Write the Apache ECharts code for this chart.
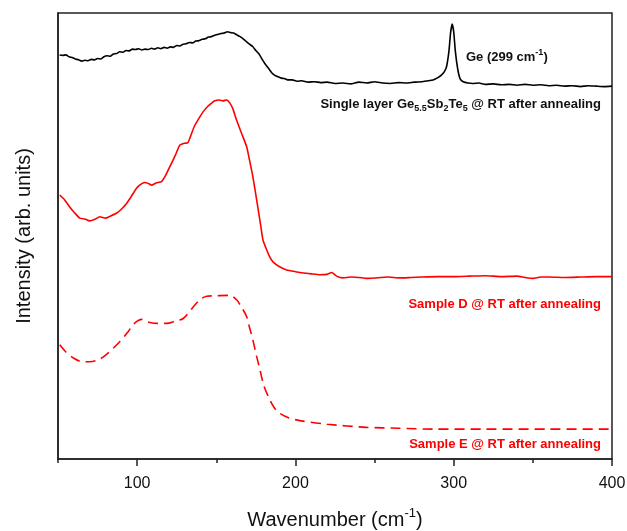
<!DOCTYPE html>
<html>
<head>
<meta charset="utf-8">
<script src="https://cdn.jsdelivr.net/npm/echarts@6/dist/echarts.min.js"></script>
<style>
html,body{margin:0;padding:0;background:#fff;}
#c{width:627px;height:531px;}
</style>
</head>
<body>
<div id="c"></div>
<script>
// Tick values
const majorTicks = [100, 200, 300, 400];
const minorTicks = [50, 150, 250, 350];

// Single layer Ge5.5Sb2Te5 (black)
const singleX = [51,53,55,57,59,61,63,65,67,69,71,73,75,77,79,81,83,85,87,89,91,93,95,97,99,101,103,105,107,109,111,113,115,117,119,121,123,125,127,129,131,133,135,137,139,141,143,145,147,149,151,153,155,157,159,161,163,165,167,169,171,173,175,177,179,181,183,185,187,189,191,193,195,198,201,204,208,212,216,220,225,230,235,240,245,250,255,260,265,270,275,280,284,287,290,292,294,295.5,297,298,299,300,301,302.5,304,306,309,312,316,320,325,330,335,340,345,350,355,360,365,370,375,380,385,390,395,400];
const singleY = [90.6,90.5,90.6,90.2,90.0,89.7,89.5,89.2,89.4,89.3,89.6,89.5,89.8,89.7,90.2,90.4,90.3,90.8,90.9,91.3,91.2,91.6,91.5,91.9,91.8,92.0,91.7,91.9,91.8,92.1,91.9,92.2,92.0,92.3,92.1,92.4,92.3,92.7,92.6,93.0,93.1,93.4,93.3,93.7,93.8,94.1,94.2,94.6,94.7,95.0,95.2,95.4,95.5,95.8,95.6,95.5,95.1,94.7,94.2,93.6,93.0,92.5,91.6,90.8,89.6,88.5,87.6,86.6,86.0,85.7,85.4,85.3,85.0,85.0,84.7,84.8,84.5,84.6,84.4,84.5,84.2,84.3,84.1,84.5,84.3,84.6,84.3,84.2,84.4,84.3,84.5,84.6,84.8,85.0,85.5,86.0,86.8,88.0,91.5,95.5,97.5,95.8,91.5,87.5,85.3,84.6,84.3,84.2,84.3,84.0,84.1,83.9,84.0,83.8,84.0,83.8,83.9,83.7,83.8,83.6,83.7,83.5,83.7,83.6,83.5,83.6];

// Sample D (red solid)
const sampleDX = [51.1,54,57.4,60,63.7,67,70,73,76.4,80,82.7,86.9,90,93.3,96,99.6,102,104.8,107,109.1,112,115.4,118,120.6,124,127,130,132,134,136,139.6,142,144.7,147,149.1,152,154.2,156.5,158.6,160.5,162.8,166,169.2,171,173.1,176,178,179.5,181.8,183.5,185.8,190,194.4,200,205,210,215.5,220,222.9,226,230,235,240,245,250,258,266,273,280,290,300,310,320,330,340,345,350,355,360,370,380,390,400];
const sampleDY = [59.2,58.2,56.5,55.4,54.0,53.8,53.4,53.7,54.3,54.0,54.4,55.1,56.0,57.3,58.7,60.7,61.5,62.0,61.8,61.4,61.9,62.2,63.6,65.5,68.0,70.4,70.8,70.9,72.6,74.5,76.7,78.0,79.1,79.8,80.3,80.5,80.3,80.5,79.8,78.5,76.0,73.0,70.0,67.0,63.3,57.0,52.5,49.1,46.9,45.5,44.2,43.1,42.4,42.0,41.7,41.5,41.3,41.4,41.8,41.0,40.6,40.8,40.7,40.5,40.6,40.8,40.6,40.7,40.8,40.9,40.9,41.0,41.1,40.9,41.0,40.7,40.5,40.8,40.8,40.7,40.8,40.9,40.9];

// Sample E (red dashed)
const sampleEX = [51.1,55,60,65.6,70,76.4,82,89,94,97.2,100,102.7,105,108,113,118.6,124,129.1,134,139.6,143.9,150,158.6,162.8,166,169.2,171,173.1,175.5,177.6,180,183.9,187,190.2,196,202.9,220,245,265,287,320,360,400];
const sampleEY = [25.6,24.0,22.6,21.8,21.8,22.4,23.9,26.3,28.4,30.0,30.9,31.3,31.0,30.6,30.4,30.4,30.9,31.5,33.5,35.7,36.5,36.6,36.7,35.7,34.0,31.9,29.5,26.7,23.0,20.0,16.5,13.2,11.3,10.2,9.2,8.6,7.8,7.1,6.9,6.7,6.7,6.7,6.7];

const zip = (xs, ys) => xs.map((x, i) => [x, ys[i]]);
const FF = '"Liberation Sans", Arial, sans-serif';

const chart = echarts.init(document.getElementById('c'), null, {renderer: 'canvas'});
chart.setOption({
  animation: false,
  backgroundColor: '#fff',
  grid: {left: 58, right: 15, top: 13, bottom: 72, show: true, borderColor: '#222', borderWidth: 1.5,
         backgroundColor: 'transparent', containLabel: false, outerBoundsMode: 'none'},
  xAxis: [{
    type: 'value', min: 50, max: 400, interval: 50,
    axisLine: {show: true, lineStyle: {color: '#222', width: 1.5}},
    axisTick: {show: true, inside: false, length: 7, customValues: majorTicks, lineStyle: {color: '#222', width: 1.5}},
    axisLabel: {customValues: majorTicks, fontSize: 16, color: '#111', margin: 17, fontFamily: FF},
    splitLine: {show: false},
    name: '{n|Wavenumber (cm}{p|-1}{n|)}',
    nameLocation: 'middle', nameGap: 48,
    nameTextStyle: {
      fontFamily: FF, color: '#111',
      rich: {
        n: {fontSize: 20, fontFamily: FF, color: '#111', lineHeight: 26},
        p: {fontSize: 13, fontFamily: FF, color: '#111', lineHeight: 14, verticalAlign: 'top'}
      }
    }
  }, {
    type: 'value', min: 50, max: 400, interval: 50, position: 'bottom',
    axisLine: {show: false},
    axisTick: {show: true, length: 4, customValues: minorTicks, lineStyle: {color: '#222', width: 1.5}},
    axisLabel: {show: false},
    splitLine: {show: false}
  }],
  yAxis: {
    type: 'value', min: 0, max: 100,
    axisLine: {show: true, lineStyle: {color: '#222', width: 1.5}},
    axisTick: {show: false},
    axisLabel: {show: false},
    splitLine: {show: false},
    name: 'Intensity (arb. units)',
    nameLocation: 'middle', nameGap: 24,
    nameTextStyle: {fontSize: 20, fontFamily: FF, color: '#111'}
  },
  series: [
    {type: 'line', xAxisIndex: 0, data: zip(singleX, singleY), showSymbol: false, smooth: 0.15,
     lineStyle: {color: '#000', width: 1.6}},
    {type: 'line', xAxisIndex: 0, data: zip(sampleDX, sampleDY), showSymbol: false, smooth: 0.15,
     lineStyle: {color: '#ff0000', width: 1.6}},
    {type: 'line', xAxisIndex: 0, data: zip(sampleEX, sampleEY), showSymbol: false, smooth: 0.3,
     lineStyle: {color: '#ff0000', width: 1.6, type: [10, 6]}}
  ],
  graphic: [
    {type: 'text', x: 466, y: 57, style: {
      text: '{b|Ge (299 cm}{p|-1}{b|)}', align: 'left', verticalAlign: 'middle',
      rich: {b: {fontSize: 13, fontWeight: 'bold', fontFamily: FF, fill: '#111', lineHeight: 18},
             p: {fontSize: 9, fontWeight: 'bold', fontFamily: FF, fill: '#111', lineHeight: 10, verticalAlign: 'top'}}
    }},
    {type: 'text', x: 601, y: 104, style: {
      text: '{b|Single layer Ge}{s|5.5}{b|Sb}{s|2}{b|Te}{s|5}{b| @ RT after annealing}', align: 'right', verticalAlign: 'middle',
      rich: {b: {fontSize: 13, fontWeight: 'bold', fontFamily: FF, fill: '#111', lineHeight: 18},
             s: {fontSize: 9, fontWeight: 'bold', fontFamily: FF, fill: '#111', lineHeight: 10, verticalAlign: 'bottom'}}
    }},
    {type: 'text', x: 601, y: 304, style: {
      text: 'Sample D @ RT after annealing', align: 'right', verticalAlign: 'middle',
      font: 'bold 13px ' + FF, fill: '#ff0000'
    }},
    {type: 'text', x: 601, y: 444, style: {
      text: 'Sample E @ RT after annealing', align: 'right', verticalAlign: 'middle',
      font: 'bold 13px ' + FF, fill: '#ff0000'
    }}
  ]
});
</script>
</body>
</html>
